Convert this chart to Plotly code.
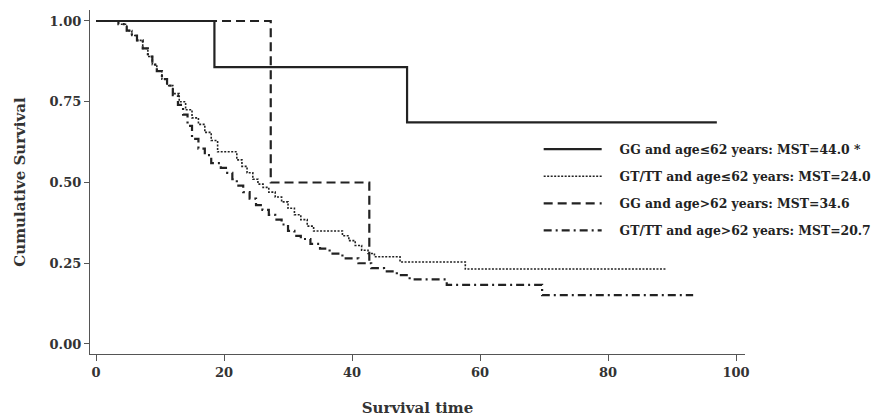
import plotly.graph_objects as go

# Kaplan-Meier step data
gg_young_t = [0, 18.5, 48.6, 97.0]
gg_young_s = [1.0, 0.857, 0.686, 0.686]

gt_young_t = [0, 4, 4.8, 5.6, 6.4, 7.3, 8.1, 8.8, 9.5, 10.3, 11.1, 12, 13, 14, 15, 16, 17, 18, 19,
              22, 22.8, 23.6, 24.5, 25.3, 26.1, 27, 28, 29, 30, 31, 32, 33, 34,
              38.5, 39.5, 40.5, 41.5, 42.5, 43.5, 47.5, 57.7, 89.2]
gt_young_s = [1.0, 0.99, 0.97, 0.955, 0.94, 0.915, 0.89, 0.865, 0.845, 0.82, 0.80, 0.775, 0.75, 0.725,
              0.70, 0.68, 0.655, 0.63, 0.595, 0.57, 0.55, 0.53, 0.51, 0.495, 0.485, 0.47, 0.455,
              0.44, 0.42, 0.40, 0.385, 0.365, 0.35, 0.335, 0.32, 0.305, 0.29, 0.28, 0.27, 0.254,
              0.232, 0.232]

gg_old_t = [0, 27.3, 42.7, 42.7]
gg_old_s = [1.0, 0.5, 0.25, 0.25]

gt_old_t = [0, 3.5, 4.8, 5.6, 6.4, 7.3, 8.1, 8.8, 9.5, 10.3, 11.1, 12, 12.8, 13.6, 14.3, 15, 16, 17,
            18, 19.5, 20.5, 21.3, 22, 23, 24, 25, 26, 27, 28, 29, 30, 31, 32, 33.5, 35, 36.5, 38.5,
            41, 43, 45, 47, 49, 54.8, 69.7, 93.3]
gt_old_s = [1.0, 0.99, 0.97, 0.955, 0.94, 0.915, 0.89, 0.865, 0.845, 0.82, 0.80, 0.77, 0.74, 0.71,
            0.675, 0.635, 0.605, 0.585, 0.56, 0.545, 0.53, 0.51, 0.49, 0.47, 0.45, 0.43, 0.415,
            0.40, 0.385, 0.37, 0.35, 0.335, 0.325, 0.31, 0.295, 0.28, 0.265, 0.25, 0.235, 0.225,
            0.213, 0.20, 0.183, 0.151, 0.151]

names = ["GG and age\u226462 years: MST=44.0 *",
         "GT/TT and age\u226462 years: MST=24.0",
         "GG and age>62 years: MST=34.6",
         "GT/TT and age>62 years: MST=20.7"]

x_ticks = [0, 20, 40, 60, 80, 100]
y_ticks = [0, 0.25, 0.5, 0.75, 1.0]

SERIF = "DejaVu Serif"
INK = "#222222"
PAD = "\u00a0\u00a0\u00a0"

fig = go.Figure()
series = [
    (gg_young_t, gg_young_s, names[0], "solid", 2.2),
    (gt_young_t, gt_young_s, names[1], "2px,1.5px", 1.6),
    (gg_old_t, gg_old_s, names[2], "9px,5px", 2.2),
    (gt_old_t, gt_old_s, names[3], "8px,4px,2px,4px", 2.2),
]
for i, (t, s, n, d, w) in enumerate(series):
    fig.add_trace(go.Scatter(x=t, y=s, mode="lines", name=PAD + n, legendgroup=str(i),
                             line=dict(shape="hv", color=INK, dash=d, width=w)))

tick_font = dict(family=SERIF, size=13, color="#333333", weight="bold")
title_font = dict(family=SERIF, size=15, color="#333333", weight="bold")
fig.update_layout(
    width=889, height=419,
    margin=dict(l=82, r=152, t=2, b=73),
    paper_bgcolor="white", plot_bgcolor="white",
    showlegend=True,
    legend=dict(x=0.685, y=0.638, xanchor="left", yanchor="top",
                font=dict(family=SERIF, size=12.4, color=INK, weight="bold"),
                itemwidth=58, tracegroupgap=8, bgcolor="rgba(0,0,0,0)"),
    xaxis=dict(range=[-0.94, 101.4], tickvals=x_ticks, showgrid=False, zeroline=False,
               showline=True, linecolor="#555555", linewidth=1.3, ticks="outside",
               ticklen=6, tickcolor="#555555", tickfont=tick_font,
               title=dict(text="Survival time", font=title_font, standoff=23)),
    yaxis=dict(range=[-0.031, 1.034], tickvals=y_ticks, tickformat=".2f", showgrid=False,
               zeroline=False, showline=True, linecolor="#555555", linewidth=1.3,
               ticks="outside", ticklen=5, tickcolor="#555555", tickfont=tick_font,
               title=dict(text="Cumulative Survival", font=title_font, standoff=20)),
)

fig.write_html("out.html")
